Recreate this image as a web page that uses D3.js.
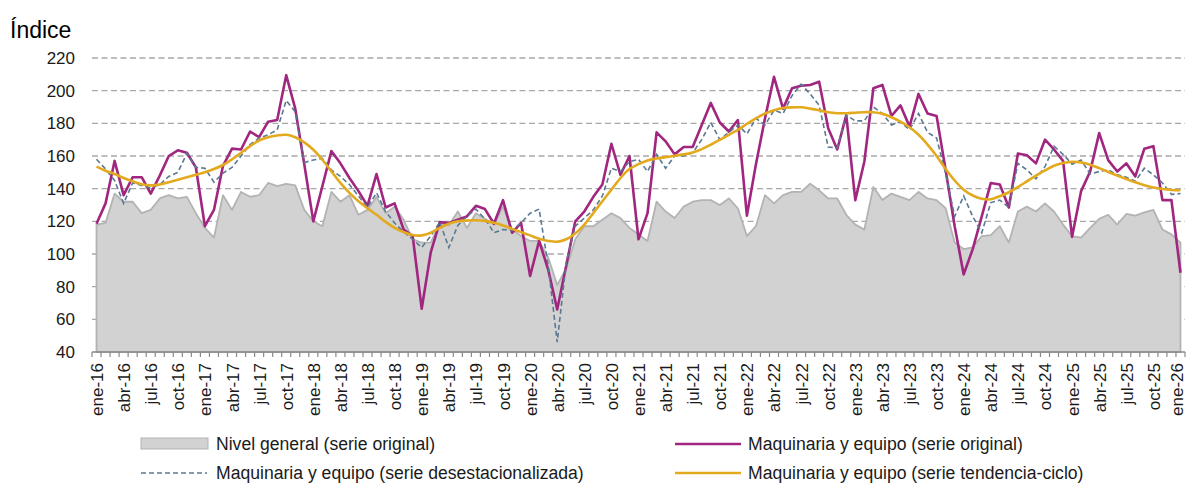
<!DOCTYPE html>
<html>
<head>
<meta charset="utf-8">
<script src="https://cdn.jsdelivr.net/npm/d3@7"></script>
<style>
  body { margin: 0; background: #fff; }
  svg { display: block; }
  text { font-family: "Liberation Sans", Arial, Helvetica, sans-serif; }
</style>
</head>
<body>
<svg id="chart" width="1186" height="484"></svg>
<script>
// Month labels (ene-16 ... ene-26)
const monthAbbr = ["ene", "feb", "mar", "abr", "may", "jun", "jul", "ago", "sep", "oct", "nov", "dic"];
const yearLabels = ["16", "17", "18", "19", "20", "21", "22", "23", "24", "25", "26"];
const categories = [];
yearLabels.forEach((yy, yi) => {
  monthAbbr.forEach((m, mi) => {
    if (yi < yearLabels.length - 1 || mi === 0) categories.push(m + "-" + yy);
  });
});

// Nivel general (serie original)
const nivelGeneral = [
  118, 119, 137, 132, 132, 125, 127, 134, 136, 134, 135, 125,
  116, 110, 136, 127, 138, 135, 136, 143.5, 141.5, 143, 142, 127,
  120, 117, 138, 132, 136, 124, 127, 135, 125, 129, 121, 109,
  107, 107, 119, 117.5, 126, 116, 125, 121.5, 118, 129, 115, 111,
  108, 108, 98, 81, 91, 109, 117, 117, 121, 125, 122, 116,
  112, 108, 132, 126, 122, 129, 132, 133, 133, 130, 134, 128,
  111, 117, 136, 131, 136, 138, 138, 143, 139, 134, 134, 124,
  118, 115, 141, 133, 137, 135, 133, 138, 134, 133, 128, 107,
  103, 104, 111, 111.5, 117, 107, 126, 129, 126, 131, 126, 118,
  111, 110, 116, 121.5, 124, 118, 124.5, 123.5, 125.5, 127, 115, 112,
  107
];

// Maquinaria y equipo (serie original)
const maqOriginal = [
  118.5, 131, 157, 136, 147, 147, 137, 148, 160, 163.5, 162, 153,
  117, 127, 154, 164.5, 164, 175, 171.5, 181, 182, 209.5, 189, 155,
  120, 141.5, 163, 155.5, 146.5, 138.5, 129.5, 149, 128.5, 131, 115, 111,
  66.5, 101, 119.5, 119, 121, 123, 129.5, 127.5, 118.5, 133, 113, 119,
  86.5, 108, 90.5, 66, 93, 120, 126, 135, 142.5, 167.5, 148.5, 160,
  109, 125, 174.5, 169, 161, 165.5, 165.5, 179, 192.5, 180.5, 175, 182,
  123.5, 155, 183, 208.5, 189, 201.5, 203, 203.5, 205.5, 177, 164, 185,
  133, 156.5, 201.5, 203.5, 184.5, 191, 178, 198, 186, 184.5, 151.5, 117,
  87.5, 103, 123, 143.5, 142.5, 128.5, 161.5, 160.5, 155.5, 170, 164, 157,
  110.5, 138.5, 150.5, 174, 157.5, 150.5, 155.5, 147.5, 164.5, 166, 133, 133,
  88.5
];

// Maquinaria y equipo (serie desestacionalizada)
const maqDesest = [
  158, 152, 145, 131, 143.5, 142, 140.5, 142.5, 147.5, 150, 161.5, 153,
  152.5, 144, 149.5, 153, 160, 167, 171, 173, 176, 194, 187, 156,
  157.5, 158.5, 151.5, 147.5, 142.5, 135.5, 128.5, 137.5, 126, 119, 113.5, 109,
  104, 111, 119.5, 104, 117.5, 123, 127.5, 121.5, 113, 115, 114.5, 119,
  125, 127.5, 93, 46, 95, 117, 122, 127, 135.5, 152.5, 150.5, 156.5,
  158, 150.5, 161, 152.5, 160, 160, 162, 170, 180.5, 170, 174.5, 179,
  173.5, 183, 179, 188, 186, 197, 204, 198, 191, 165.5, 165, 185,
  181.5, 181.5, 190, 186, 179, 181, 176, 186, 174.5, 171, 149.5, 123,
  135.5, 123, 113, 131.5, 133, 128.5, 155.5, 151.5, 146, 153.5, 166, 161,
  155, 157.5, 149, 150.5, 151.5, 148.5, 147, 144.5, 152.5, 148.5, 143.5, 136.5,
  137
];

// Maquinaria y equipo (serie tendencia-ciclo)
const maqTendencia = [
  153.5, 151, 149, 146.5, 144.5, 142.7, 142, 142.5, 144, 145.5, 147, 148.5,
  150, 152, 154.5, 158, 162, 166, 169.5, 171.5, 172.6, 173, 171.5, 168.3,
  163.8, 157.7, 150.6, 143.5, 137.4, 132.3, 128, 124, 119.7, 116, 113.4, 111.6,
  111.4, 113, 116, 118.5, 120, 120.5, 120.7, 120.3, 119.1, 117.5, 115.4, 113.4,
  111.4, 109.3, 108, 107.5, 109, 112.6, 118, 125, 132.3, 139.4, 146.5, 152,
  155, 157.3, 158.5, 159.3, 160.2, 161, 162.2, 164.2, 166.9, 169.9, 173, 176,
  179.7, 183, 186, 188, 189.4, 189.8, 189.8, 189, 188, 186.8, 186.2, 186.2,
  186.5, 186.8, 186.8, 185.8, 183.7, 181, 177.6, 173, 167, 160, 152, 145,
  139.4, 135.8, 133.8, 133.5, 135.4, 137.8, 141, 144.5, 148, 151.2, 154, 155.7,
  156.5, 156.1, 154.7, 152.6, 150.2, 148, 145.9, 143.9, 142.1, 140.7, 139.8, 139.2,
  139
];

const yTicks = [40, 60, 80, 100, 120, 140, 160, 180, 200, 220];

const legendItems = [
  { label: "Nivel general (serie original)", kind: "area" },
  { label: "Maquinaria y equipo (serie original)", kind: "original" },
  { label: "Maquinaria y equipo (serie desestacionalizada)", kind: "desest" },
  { label: "Maquinaria y equipo (serie tendencia-ciclo)", kind: "tendencia" }
];

const colors = {
  areaFill: "#d2d2d2",
  areaStroke: "#b3b3b3",
  original: "#a0267f",
  desest: "#5b7891",
  tendencia: "#e3aa1e",
  grid: "#a8a8a8",
  axis: "#8a8a8a",
  text: "#1a1a1a"
};

const svg = d3.select("#chart");

const x = d3.scaleBand().domain(categories).range([92, 1185]).paddingInner(0).paddingOuter(0);
const y = d3.scaleLinear().domain([40, 220]).range([352, 58]);
const cx = (c) => x(c) + x.bandwidth() / 2;

// Horizontal dashed gridlines
svg.append("g")
  .selectAll("line")
  .data(yTicks.filter(t => t > 40))
  .join("line")
  .attr("x1", 92).attr("x2", 1185)
  .attr("y1", d => y(d)).attr("y2", d => y(d))
  .attr("stroke", colors.grid)
  .attr("stroke-width", 1.3)
  .attr("stroke-dasharray", "6,3.5");

// Area: general level
const areaGen = d3.area()
  .x((d, i) => cx(categories[i]))
  .y0(y(40))
  .y1(d => y(d));

svg.append("path")
  .datum(nivelGeneral)
  .attr("d", areaGen)
  .attr("fill", colors.areaFill)
  .attr("stroke", colors.areaStroke)
  .attr("stroke-width", 1.8)
  .attr("stroke-linejoin", "round");

// X axis with a tick between every month
const xAxis = svg.append("g").attr("transform", `translate(0,${y(40)})`);
xAxis.append("line")
  .attr("x1", 92).attr("x2", 1185)
  .attr("stroke", colors.axis).attr("stroke-width", 1.6);
xAxis.selectAll("line.tick")
  .data(categories.concat(["__end"]))
  .join("line")
  .attr("class", "tick")
  .attr("x1", (d, i) => 92 + i * x.bandwidth())
  .attr("x2", (d, i) => 92 + i * x.bandwidth())
  .attr("y1", 0).attr("y2", 5)
  .attr("stroke", colors.axis).attr("stroke-width", 1.2);

// Quarterly month labels, rotated (last one kept inside the frame)
svg.append("g")
  .selectAll("text")
  .data(categories.filter((c, i) => i % 3 === 0))
  .join("text")
  .attr("transform", d => `translate(${Math.min(cx(d) + 6.5, 1182.5)},363) rotate(-90)`)
  .attr("text-anchor", "end")
  .attr("font-size", 17)
  .attr("fill", colors.text)
  .text(d => d);

// Y labels
svg.append("g")
  .selectAll("text")
  .data(yTicks)
  .join("text")
  .attr("x", 75)
  .attr("y", d => y(d))
  .attr("dy", "0.36em")
  .attr("text-anchor", "end")
  .attr("font-size", 17)
  .attr("fill", colors.text)
  .text(d => d);

// Axis title
svg.append("text")
  .attr("x", 10).attr("y", 38)
  .attr("font-size", 23)
  .attr("fill", "#000")
  .text("Índice");

// Series lines
const lineGen = d3.line().x((d, i) => cx(categories[i])).y(d => y(d));
const smoothGen = d3.line().x((d, i) => cx(categories[i])).y(d => y(d)).curve(d3.curveCatmullRom);

svg.append("path")
  .datum(maqOriginal)
  .attr("d", lineGen)
  .attr("fill", "none")
  .attr("stroke", colors.original)
  .attr("stroke-width", 2.6)
  .attr("stroke-linejoin", "round");

svg.append("path")
  .datum(maqDesest)
  .attr("d", lineGen)
  .attr("fill", "none")
  .attr("stroke", colors.desest)
  .attr("stroke-width", 1.6)
  .attr("stroke-dasharray", "5,3");

svg.append("path")
  .datum(maqTendencia)
  .attr("d", smoothGen)
  .attr("fill", "none")
  .attr("stroke", colors.tendencia)
  .attr("stroke-width", 2.6);

// Legend
const legendPos = [
  { x: 141, y: 444 },
  { x: 675, y: 444 },
  { x: 141, y: 473 },
  { x: 675, y: 473 }
];
const legend = svg.append("g");
legendItems.forEach((item, i) => {
  const p = legendPos[i];
  const g = legend.append("g").attr("transform", `translate(${p.x},${p.y})`);
  if (item.kind === "area") {
    g.append("rect").attr("x", 0).attr("y", -6).attr("width", 67).attr("height", 11)
      .attr("fill", colors.areaFill).attr("stroke", colors.areaStroke).attr("stroke-width", 1);
  } else {
    g.append("line").attr("x1", 0).attr("x2", 66).attr("y1", 0).attr("y2", 0)
      .attr("stroke", colors[item.kind])
      .attr("stroke-width", item.kind === "desest" ? 1.6 : 2.6)
      .attr("stroke-dasharray", item.kind === "desest" ? "5,3" : null);
  }
  g.append("text")
    .attr("x", item.kind === "area" || item.kind === "desest" ? 75 : 73)
    .attr("y", 0)
    .attr("dy", "0.36em")
    .attr("font-size", 17.6)
    .attr("fill", colors.text)
    .text(item.label);
});
</script>
</body>
</html>
